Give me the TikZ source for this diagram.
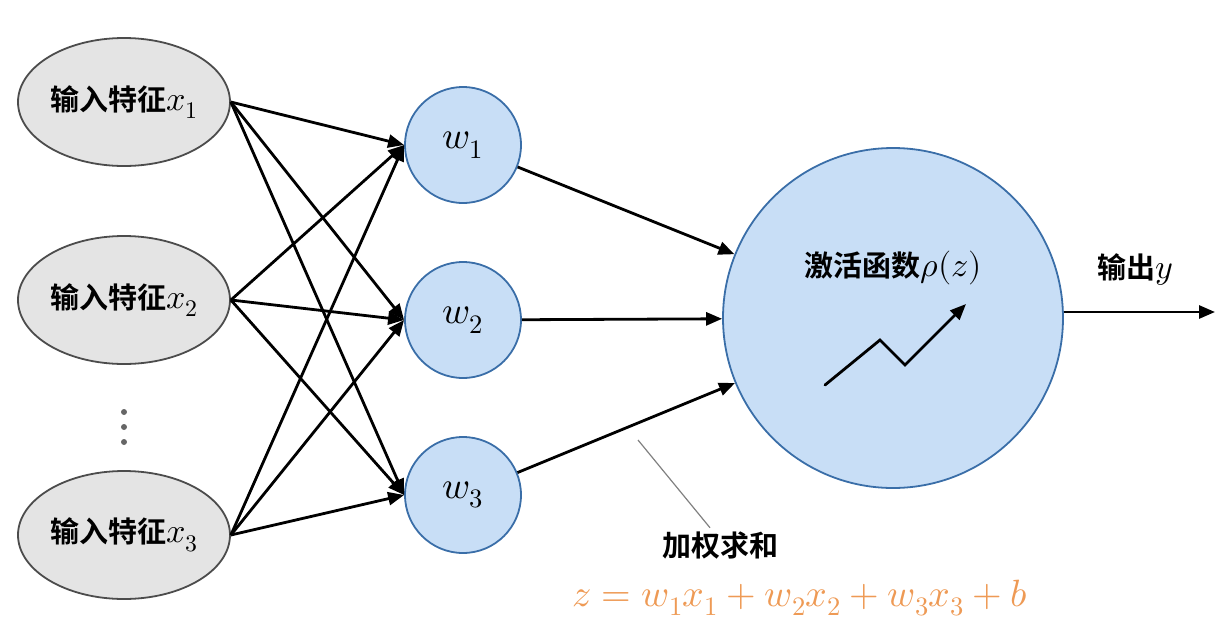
\documentclass[tikz,border=0pt]{standalone}
\usepackage{fontspec}
\usepackage{unicode-math}
\newfontfamily\cjk{Noto Sans CJK SC}[BoldFont={Noto Sans CJK SC Bold}]
\usetikzlibrary{arrows.meta,shapes.geometric}
\definecolor{cfill}{HTML}{C8DEF6}
\definecolor{cdraw}{HTML}{3A6EA8}
\definecolor{efill}{HTML}{E4E4E4}
\definecolor{orng}{HTML}{EE9A55}
\newcommand{\bm}[1]{{\fontsize{34}{36}\selectfont$#1$}}
\begin{document}
\begin{tikzpicture}[x=1pt,y=-1pt,
  inp/.style={ellipse,draw=black!70,line width=1.8pt,fill=efill,minimum width=212pt,minimum height=128pt,inner sep=0pt,font=\cjk\bfseries\fontsize{29}{32}\selectfont},
  wn/.style={circle,draw=cdraw,line width=1.8pt,fill=cfill,minimum size=116pt,font=\fontsize{38}{40}\selectfont},
  arr/.style={-{Triangle[length=16pt,width=13pt]},line width=2.8pt},
  lbl/.style={font=\cjk\bfseries\fontsize{29}{32}\selectfont},
  dot/.style={circle,fill=black!60,inner sep=0pt,minimum size=6pt}]
\useasboundingbox (0,0) rectangle (1227,638);
\node[inp] (x1) at (124,102) {输入特征\bm{x_1}};
\node[inp] (x2) at (124,300) {输入特征\bm{x_2}};
\node[inp] (x3) at (124,535) {输入特征\bm{x_3}};
\node[dot] (d1) at (124,412) {};
\node[dot] (d2) at (124,427) {};
\node[dot] (d3) at (124,442) {};
\node[wn] (w1) at (463,145) {$w_1$};
\node[wn] (w2) at (463,320) {$w_2$};
\node[wn] (w3) at (463,495) {$w_3$};
\node[circle,draw=cdraw,line width=1.8pt,fill=cfill,minimum size=340pt] (act) at (893,318) {};
\node[lbl] (actl) at (893,268) {激活函数\bm{\rho(z)}};
\coordinate (z1) at (825,385);
\coordinate (z2) at (880,340);
\coordinate (z3) at (905,365);
\coordinate (z4) at (966,304);
\draw[arr,line cap=round] (z1) -- (z2) -- (z3) -- (z4);
\foreach \i in {1,2,3}{
  \foreach \j in {1,2,3}{
    \draw[arr] (x\i.east) -- (w\j.west);
  }
}
\draw[arr] (w1) -- (act);
\draw[arr] (w2) -- (act);
\draw[arr] (w3) -- (act);
\coordinate (out) at (1215,312);
\draw[arr] (act.east |- out) -- (out);
\node[lbl] (yl) at (1135,270) {输出\bm{y}};
\coordinate (g1) at (638,440);
\node[lbl] (sum) at (720,545) {加权求和};
\draw[gray,line width=1.2pt] (g1) -- (sum.north -| 710,0);
\node[text=orng,font=\fontsize{38}{40}\selectfont] (f) at (800,598) {$z=w_1x_1+w_2x_2+w_3x_3+b$};
\end{tikzpicture}
\end{document}
